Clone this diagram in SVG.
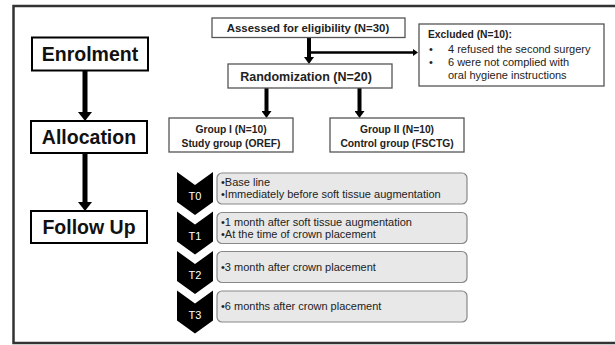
<svg xmlns="http://www.w3.org/2000/svg" width="615" height="345" viewBox="0 0 615 345">
<style>
.stage{fill:#fff;stroke:#000;stroke-width:2}
.stxt{font-family:"Liberation Sans",Arial,sans-serif;font-weight:bold;font-size:19.5px;fill:#111;text-anchor:middle}
.box{fill:#fff;stroke:#555;stroke-width:1.3}
.btxt{font-family:"Liberation Sans",Arial,sans-serif;font-weight:bold;font-size:10.3px;fill:#222}
.rtxt{font-family:"Liberation Sans",Arial,sans-serif;font-size:11px;fill:#222}
.tbox{fill:#e8e8e8;stroke:#888;stroke-width:1.2}
.chev{fill:#000}
.ttxt{font-family:"Liberation Sans",Arial,sans-serif;font-size:11px;fill:#fff;text-anchor:middle}
.big{stroke:#000;stroke-width:5;fill:none;marker-end:url(#hBig)}
.mid{stroke:#000;stroke-width:4;fill:none;marker-end:url(#hMid)}
.thin{stroke:#000;stroke-width:2.5;fill:none;marker-end:url(#hThin)}
</style>
<defs>
<marker id="hBig" markerUnits="userSpaceOnUse" viewBox="0 0 9 14" refX="0" refY="7" markerWidth="9" markerHeight="14" orient="auto"><path d="M0,0 L9,7 L0,14 z" fill="#000"/></marker>
<marker id="hMid" markerUnits="userSpaceOnUse" viewBox="0 0 7 10" refX="0" refY="5" markerWidth="7" markerHeight="10" orient="auto"><path d="M0,0 L7,5 L0,10 z" fill="#000"/></marker>
<marker id="hThin" markerUnits="userSpaceOnUse" viewBox="0 0 5 7" refX="0" refY="3.5" markerWidth="5" markerHeight="7" orient="auto"><path d="M0,0 L5,3.5 L0,7 z" fill="#000"/></marker>
<path id="chevShape" d="M0,0 L18,13 L36,0 L36,30 L18,43 L0,30 z"/>
</defs>
<rect width="615" height="345" fill="#fff"/>
<path d="M616,6 H13.5 V343 H616" fill="none" stroke="#333" stroke-width="2.5"/>

<g id="connectors">
<line class="big" x1="85" y1="71" x2="85" y2="112"/>
<line class="big" x1="85" y1="153" x2="85" y2="202"/>
<line class="mid" x1="309" y1="37" x2="309" y2="57"/>
<line class="thin" x1="309" y1="52.5" x2="413" y2="52.5"/>
<line class="mid" x1="266.5" y1="88" x2="266.5" y2="111"/>
<line class="mid" x1="359.5" y1="88" x2="359.5" y2="111"/>
</g>

<g id="enrolment"><rect class="stage" x="32" y="37.5" width="116" height="33"/><text class="stxt" x="90" y="61">Enrolment</text></g>
<g id="allocation"><rect class="stage" x="31" y="121" width="116" height="32"/><text class="stxt" x="89" y="144">Allocation</text></g>
<g id="followup"><rect class="stage" x="31" y="211" width="116" height="32"/><text class="stxt" x="89" y="234">Follow Up</text></g>

<g id="assessed"><rect class="box" x="212" y="18" width="193" height="19.5"/><text class="btxt" x="308" y="32" text-anchor="middle" style="font-size:11.4px">Assessed for eligibility (N=30)</text></g>
<g id="excluded"><rect class="box" x="419" y="24" width="185" height="62"/>
<text class="btxt" x="428" y="38">Excluded (N=10):</text>
<text class="rtxt" x="429" y="53">•</text><text class="rtxt" x="448" y="53">4 refused the second surgery</text>
<text class="rtxt" x="429" y="66">•</text><text class="rtxt" x="448" y="66">6 were not complied with</text>
<text class="rtxt" x="448" y="79">oral hygiene instructions</text></g>
<g id="randomization"><rect class="box" x="228" y="64" width="164" height="24"/><text class="btxt" x="306" y="81" text-anchor="middle" style="font-size:12.5px">Randomization (N=20)</text></g>
<g id="group1"><rect class="box" x="169" y="118" width="124" height="34"/><text class="btxt" x="231" y="132.5" text-anchor="middle">Group I (N=10)</text><text class="btxt" x="231" y="146.5" text-anchor="middle">Study group (OREF)</text></g>
<g id="group2"><rect class="box" x="330" y="118" width="134" height="34"/><text class="btxt" x="397" y="132.5" text-anchor="middle">Group II (N=10)</text><text class="btxt" x="397" y="146.5" text-anchor="middle">Control group (FSCTG)</text></g>

<g id="t0"><rect class="tbox" x="217" y="173" width="250" height="31" rx="5"/><use href="#chevShape" class="chev" x="177" y="172"/><text class="ttxt" x="195" y="200">T0</text>
<text class="rtxt" x="221" y="186">•Base line</text><text class="rtxt" x="221" y="198">•Immediately before soft tissue augmentation</text></g>
<g id="t1"><rect class="tbox" x="217" y="212.5" width="250" height="31" rx="5"/><use href="#chevShape" class="chev" x="177" y="211.5"/><text class="ttxt" x="195" y="239.5">T1</text>
<text class="rtxt" x="221" y="226">•1 month after soft tissue augmentation</text><text class="rtxt" x="221" y="238">•At the time of crown placement</text></g>
<g id="t2"><rect class="tbox" x="217" y="251.5" width="250" height="31" rx="5"/><use href="#chevShape" class="chev" x="177" y="251"/><text class="ttxt" x="195" y="279">T2</text>
<text class="rtxt" x="221" y="271">•3 month after crown placement</text></g>
<g id="t3"><rect class="tbox" x="217" y="291" width="250" height="31" rx="5"/><use href="#chevShape" class="chev" x="177" y="290.5"/><text class="ttxt" x="195" y="318.5">T3</text>
<text class="rtxt" x="221" y="310">•6 months after crown placement</text></g>
</svg>
